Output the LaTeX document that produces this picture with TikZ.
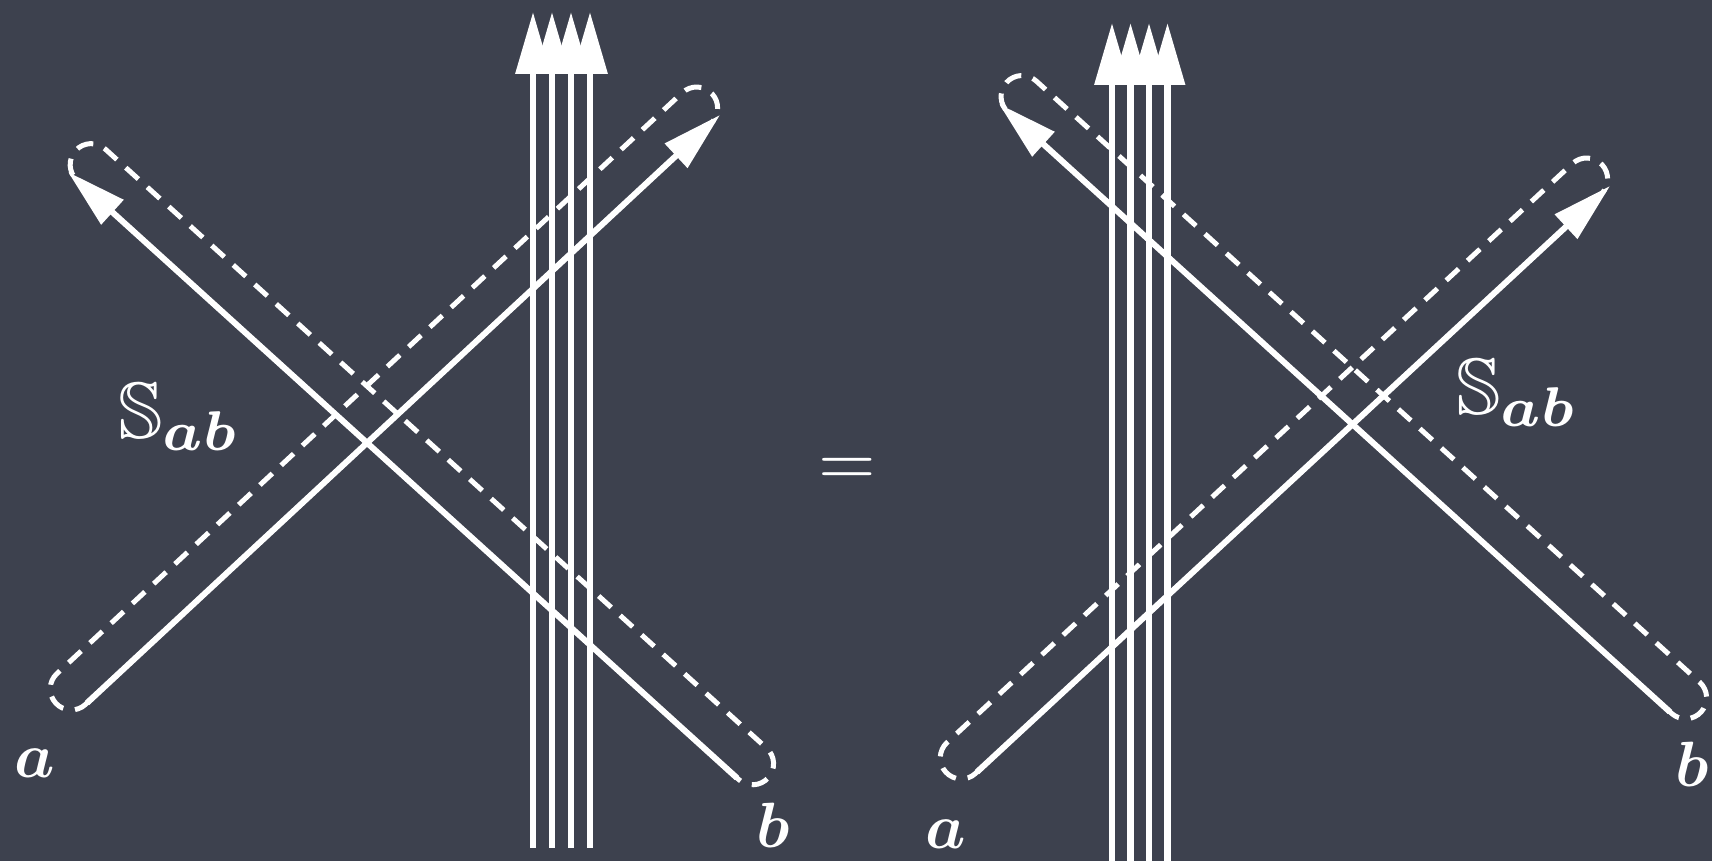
\documentclass[tikz,border=0pt]{standalone}
\usepackage{graphicx}
\usepackage{amssymb}
\usepackage{bm}
\usetikzlibrary{arrows.meta}
\definecolor{bg}{RGB}{61,65,78}
\tikzset{
  strand/.style={white, line width=6pt, -{Triangle[length=60pt,width=32pt]}},
  beam/.style={white, line width=6.5pt, -{Triangle[length=62pt,width=34pt]}},
  loopdash/.style={white, line width=5pt, dash pattern=on 17pt off 12pt},
  lbl/.style={white, inner sep=0pt, anchor=base},
  bigmath/.style={white, inner sep=0pt, anchor=base west},
}
\newcommand\dashloop[5]{%
  \pgfmathsetmacro\dlang{atan2((#4)-(#2),(#3)-(#1))}%
  \pgfmathsetmacro\dllen{veclen((#3)-(#1),(#4)-(#2))}%
  \pgfmathsetmacro\dlend{\dllen-12}%
  \begin{scope}[shift={(#1,#2)},rotate=\dlang,yscale=#5]
    \draw[loopdash] (-2,0) -- (\dlend,0) arc[start angle=-90,end angle=90,radius=21pt] -- (-2,42) arc[start angle=90,end angle=270,radius=21pt] -- cycle;
  \end{scope}}
\begin{document}
\begin{tikzpicture}[x=1pt,y=1pt]
\useasboundingbox (0,0) rectangle (1712,861);
\fill[bg] (0,0) rectangle (1712,861);

% dashed loops
\dashloop{87}{158}{720}{746}{1}
\dashloop{737}{83}{68}{689}{-1}
\dashloop{977}{89}{1610}{675}{1}
\dashloop{1670}{149}{999}{757}{-1}

% strand end points
\coordinate (aLs) at (87,158);   \coordinate (aLe) at (720,746);
\coordinate (bLs) at (737,83);   \coordinate (bLe) at (68,689);
\coordinate (aRs) at (977,89);   \coordinate (aRe) at (1610,675);
\coordinate (bRs) at (1670,149); \coordinate (bRe) at (999,757);

\draw[strand] (aLs) -- (aLe);
\draw[strand] (bLs) -- (bLe);
\draw[strand] (aRs) -- (aRe);
\draw[strand] (bRs) -- (bRe);

% vertical beams
\foreach \i/\x in {1/533,2/552,3/571,4/590}{
  \coordinate (vL\i s) at (\x,13);
  \coordinate (vL\i e) at (\x,849);
  \draw[beam] (vL\i s) -- (vL\i e);
}
\foreach \i/\x in {1/1112,2/1130.5,3/1149,4/1167.5}{
  \coordinate (vR\i s) at (\x,-5);
  \coordinate (vR\i e) at (\x,838);
  \draw[beam] (vR\i s) -- (vR\i e);
}

% labels
\node[lbl] (laL) at (35,83) {\scalebox{6.4}{$\bm{a}$}};
\node[lbl] (lbL) at (773,13) {\scalebox{6.4}{$\bm{b}$}};
\node[lbl] (laR) at (946,12) {\scalebox{6.4}{$\bm{a}$}};
\node[lbl] (lbR) at (1692,74) {\scalebox{6.4}{$\bm{b}$}};
\node[lbl] (eq) at (847,375) {\scalebox{7.4}{$=$}};
\node[bigmath] (SL) at (118,422) {\scalebox{8}{$\mathbb{S}_{\bm{ab}}$}};
\node[bigmath] (SR) at (1456,446) {\scalebox{8}{$\mathbb{S}_{\bm{ab}}$}};
\end{tikzpicture}
\end{document}
